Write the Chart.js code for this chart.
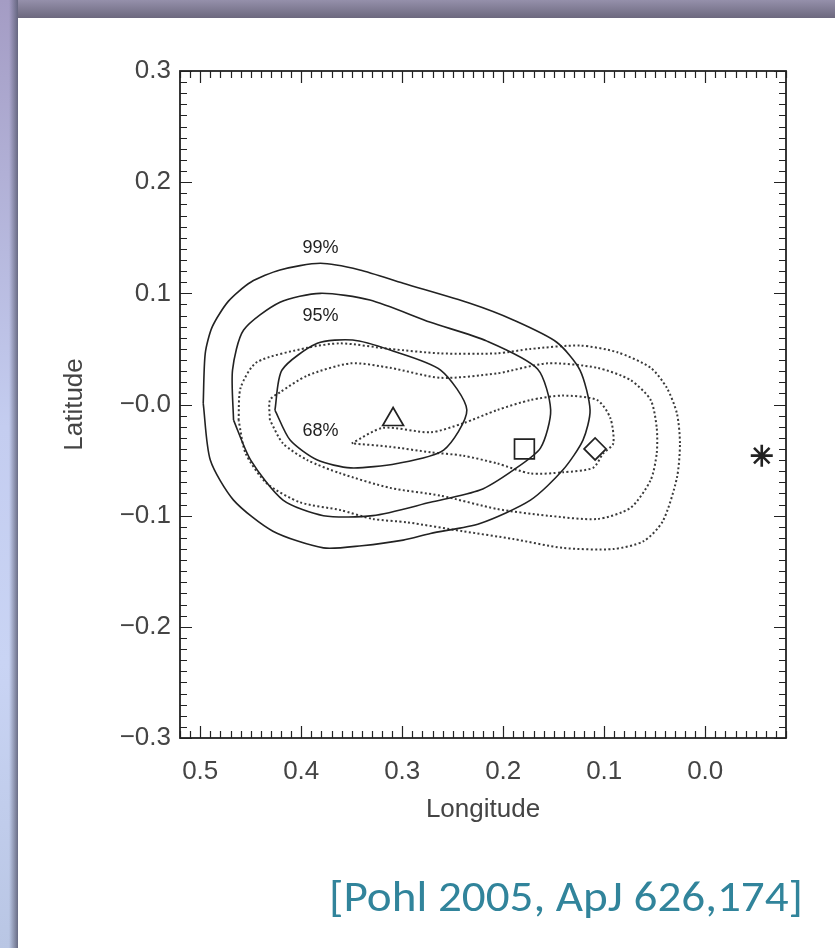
<!DOCTYPE html>
<html>
<head>
<meta charset="utf-8">
<script src="https://cdn.jsdelivr.net/npm/chart.js@4.4.1/dist/chart.umd.min.js"></script>
<style>
  html, body { margin: 0; padding: 0; background: #fff; }
  body { width: 835px; height: 948px; position: relative; overflow: hidden; }
  #topbar { position: absolute; left: 0; top: 0; width: 835px; height: 18px;
    background: linear-gradient(to bottom, #9590ab, #6c687e); }
  #leftbar { position: absolute; left: 0; top: 0; width: 18px; height: 948px;
    background: linear-gradient(to right, rgba(255,255,255,0) 50%, rgba(90,92,115,0.85) 100%),
                linear-gradient(to bottom, #a49cc4 0%, #c4cdf0 45%, #c9d4f4 70%, #b9c6e4 100%); }
  #chart { position: absolute; left: 0; top: 0; }
  #cite { position: absolute; left: 329px; top: 874px; font-family: Carlito, Lato, "Open Sans", sans-serif;
    font-size: 44px; line-height: 1; color: #31849b; white-space: nowrap; transform-origin: 0 0; }
</style>
</head>
<body>
<div id="topbar"></div>
<div id="leftbar"></div>
<canvas id="chart" width="835" height="948"></canvas>
<div id="cite">[Pohl 2005, ApJ 626,174]</div>
<script>
// tick values and labels (longitude axis runs right to left)
const xTickValues = [0.0, 0.1, 0.2, 0.3, 0.4, 0.5];
const xTickLabels = ['0.0', '0.1', '0.2', '0.3', '0.4', '0.5'];
const yTickValues = [-0.3, -0.2, -0.1, 0.0, 0.1, 0.2, 0.3];
const yTickLabels = ['\u22120.3', '\u22120.2', '\u22120.1', '\u22120.0', '0.1', '0.2', '0.3'];

// solid contours [lon, lat]
const c99 = [[0.497, 0.001], [0.495, 0.046], [0.488, 0.070], [0.472, 0.093], [0.450, 0.110], [0.421, 0.121],
  [0.381, 0.127], [0.342, 0.121], [0.299, 0.109], [0.233, 0.091], [0.190, 0.076], [0.147, 0.056],
  [0.124, 0.031], [0.114, -0.005], [0.121, -0.032], [0.141, -0.059], [0.173, -0.086], [0.223, -0.107],
  [0.272, -0.116], [0.299, -0.122], [0.340, -0.127], [0.378, -0.129], [0.428, -0.114], [0.467, -0.086],
  [0.490, -0.050], [0.497, 0.001]];
const c95 = [[0.467, -0.014], [0.468, 0.031], [0.457, 0.067], [0.421, 0.092], [0.381, 0.100], [0.332, 0.094],
  [0.272, 0.074], [0.216, 0.057], [0.166, 0.032], [0.153, -0.005], [0.163, -0.039], [0.190, -0.059],
  [0.223, -0.077], [0.272, -0.088], [0.329, -0.100], [0.378, -0.100], [0.418, -0.086], [0.450, -0.050],
  [0.467, -0.014]];
const c68 = [[0.426, -0.005], [0.419, 0.031], [0.384, 0.055], [0.349, 0.058], [0.312, 0.049], [0.262, 0.031],
  [0.236, -0.005], [0.259, -0.041], [0.305, -0.053], [0.351, -0.057], [0.384, -0.050], [0.411, -0.032],
  [0.426, -0.005]];

// dotted contours
const d1 = [[0.350, -0.035], [0.319, -0.021], [0.272, -0.025], [0.240, -0.017], [0.206, -0.005], [0.173, 0.004],
  [0.141, 0.008], [0.107, 0.004], [0.094, -0.012], [0.091, -0.035], [0.101, -0.044], [0.111, -0.057],
  [0.141, -0.061], [0.173, -0.062], [0.206, -0.053], [0.240, -0.046], [0.272, -0.043], [0.312, -0.038],
  [0.350, -0.035]];
const d2 = [[0.431, -0.014], [0.431, 0.004], [0.421, 0.011], [0.394, 0.026], [0.351, 0.037], [0.312, 0.033],
  [0.262, 0.024], [0.206, 0.028], [0.156, 0.037], [0.107, 0.033], [0.074, 0.022], [0.054, 0.004],
  [0.048, -0.021], [0.048, -0.044], [0.054, -0.068], [0.074, -0.093], [0.107, -0.103], [0.156, -0.100],
  [0.206, -0.094], [0.262, -0.082], [0.312, -0.075], [0.361, -0.062], [0.394, -0.050], [0.418, -0.035],
  [0.431, -0.014]];
const d3 = [[0.462, -0.014], [0.460, 0.015], [0.444, 0.038], [0.394, 0.051], [0.361, 0.055], [0.312, 0.050],
  [0.262, 0.046], [0.206, 0.046], [0.173, 0.050], [0.124, 0.053], [0.087, 0.047], [0.054, 0.033],
  [0.038, 0.015], [0.028, -0.008], [0.025, -0.035], [0.028, -0.066], [0.042, -0.105], [0.061, -0.123],
  [0.091, -0.130], [0.141, -0.129], [0.190, -0.121], [0.240, -0.114], [0.295, -0.106], [0.329, -0.103],
  [0.361, -0.095], [0.401, -0.088], [0.434, -0.071], [0.455, -0.044], [0.462, -0.014]];

// markers
const markerNames = ['triangle', 'square', 'diamond', 'star'];
const markerLon = [0.309, 0.179, 0.109, -0.056];
const markerLat = [-0.0135, -0.040, -0.040, -0.046];

// contour level labels
const levelLabels = ['99%', '95%', '68%'];
const levelLon = [0.381, 0.381, 0.381];
const levelLat = [0.141, 0.080, -0.024];

const axisFont = { family: '"Liberation Sans", Arial, sans-serif', size: 26 };
const axisColor = '#444';
const ink = '#222';

function pts(arr) { return arr.map(p => ({ x: p[0], y: p[1] })); }

function solid(arr) {
  return { data: pts(arr), showLine: true, pointRadius: 0, borderColor: ink, borderWidth: 1.6, tension: 0.25, fill: false };
}
function dotted(arr) {
  return { data: pts(arr), showLine: true, pointRadius: 0, borderColor: '#3a3a3a', borderWidth: 2,
    borderDash: [2, 2.4], tension: 0.25, fill: false };
}

const pointStyles = { triangle: 'triangle', square: 'rect', diamond: 'rectRot', star: 'star' };
const pointSizes = { triangle: 12, square: 14, diamond: 11, star: 11 };
const markerSets = markerNames.map((n, i) => ({
  data: [{ x: markerLon[i], y: markerLat[i] }],
  showLine: false,
  pointStyle: pointStyles[n],
  pointRadius: pointSizes[n],
  pointBorderWidth: n === 'star' ? 2.6 : 1.7,
  pointBorderColor: ink,
  pointBackgroundColor: 'rgba(0,0,0,0)'
}));

const framePlugin = {
  id: 'frame',
  afterDatasetsDraw(chart) {
    const { ctx, chartArea: a, scales: { x, y } } = chart;
    ctx.save();
    ctx.strokeStyle = ink;
    ctx.lineWidth = 1.8;
    ctx.strokeRect(a.left, a.top, a.right - a.left, a.bottom - a.top);
    ctx.beginPath();
    ctx.lineWidth = 1.2;
    for (let i = -8; i <= 52; i++) {
      const px = Math.round(x.getPixelForValue(i / 100)) + 0.5;
      const len = i % 10 === 0 ? 12 : 7;
      ctx.moveTo(px, a.top); ctx.lineTo(px, a.top + len);
      ctx.moveTo(px, a.bottom); ctx.lineTo(px, a.bottom - len);
    }
    for (let i = -30; i <= 30; i++) {
      const py = Math.round(y.getPixelForValue(i / 100)) + 0.5;
      const len = i % 10 === 0 ? 12 : 7;
      ctx.moveTo(a.left, py); ctx.lineTo(a.left + len, py);
      ctx.moveTo(a.right, py); ctx.lineTo(a.right - len, py);
    }
    ctx.stroke();

    ctx.fillStyle = ink;
    ctx.font = '18px "Liberation Sans", Arial, sans-serif';
    ctx.textAlign = 'center';
    ctx.textBaseline = 'middle';
    levelLabels.forEach((t, i) => {
      ctx.fillText(t, x.getPixelForValue(levelLon[i]), y.getPixelForValue(levelLat[i]));
    });
    ctx.restore();
  }
};

new Chart(document.getElementById('chart'), {
  type: 'scatter',
  data: {
    datasets: [solid(c99), solid(c95), solid(c68), dotted(d1), dotted(d2), dotted(d3), ...markerSets]
  },
  options: {
    responsive: false,
    animation: false,
    events: [],
    layout: { padding: { left: 0, right: 49, top: 71, bottom: 120 } },
    plugins: { legend: { display: false }, tooltip: { enabled: false } },
    scales: {
      x: {
        type: 'linear',
        reverse: true,
        min: -0.08,
        max: 0.52,
        afterBuildTicks: s => { s.ticks = xTickValues.map(v => ({ value: v })); },
        afterFit: s => { s.height = 90; },
        grid: { display: false, drawTicks: false },
        border: { display: false },
        ticks: { autoSkip: false, maxRotation: 0, padding: 18, color: axisColor, font: axisFont,
          callback: (v, i) => xTickLabels[i] },
        title: { display: true, text: 'Longitude', color: axisColor, font: axisFont, padding: { top: 0, bottom: 3 } }
      },
      y: {
        type: 'linear',
        min: -0.3,
        max: 0.3,
        afterBuildTicks: s => { s.ticks = yTickValues.map(v => ({ value: v })); },
        afterFit: s => { s.width = 180; },
        grid: { display: false, drawTicks: false },
        border: { display: false },
        ticks: { autoSkip: false, padding: 9, color: axisColor, font: axisFont,
          callback: (v, i) => yTickLabels[i] },
        title: { display: true, text: 'Latitude', color: axisColor, font: axisFont, padding: { top: 59, bottom: 0 } }
      }
    }
  },
  plugins: [framePlugin]
});

// squeeze the citation to the width it takes on the slide
const cite = document.getElementById('cite');
const w = cite.getBoundingClientRect().width;
cite.style.transform = 'scaleX(' + (474 / w) + ')';
</script>
</body>
</html>
